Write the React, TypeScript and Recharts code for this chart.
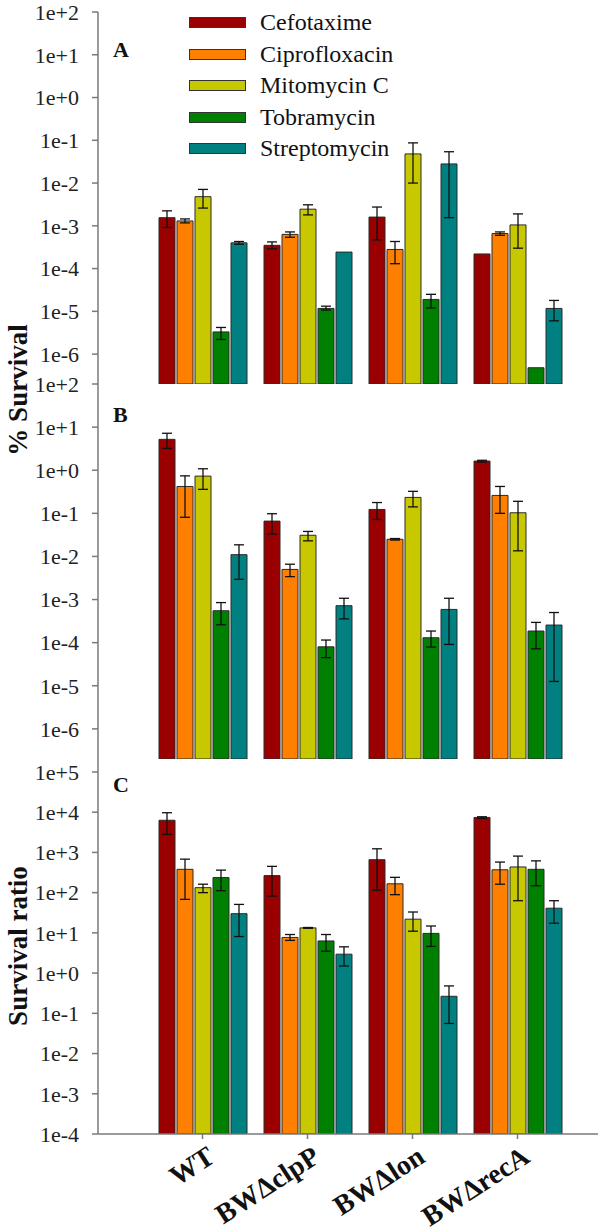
import React from 'react';
import { BarChart, Bar, XAxis, YAxis, ErrorBar, Legend } from 'recharts';

const SERIF = "Liberation Serif, DejaVu Serif, serif";

const groups = ['WT', 'BWΔclpP', 'BWΔlon', 'BWΔrecA'];
const drugs = ['Cefotaxime', 'Ciprofloxacin', 'Mitomycin C', 'Tobramycin', 'Streptomycin'];
const drugKeys = ['cef', 'cip', 'mito', 'tobra', 'strep'];
const drugColors = ['#9a0000', '#ff8000', '#c8c800', '#008000', '#008080'];

// Tick values
const survivalTicks = [1e-6, 1e-5, 1e-4, 1e-3, 1e-2, 1e-1, 1, 10, 100];
const ratioTicks = [1e-4, 1e-3, 1e-2, 1e-1, 1, 10, 100, 1e3, 1e4, 1e5];
const survivalDomain = [2e-7, 100];
const ratioDomain = [1e-4, 2.1e5];

// Panel A (% survival) values and error bounds [low, high]
const aCef = [1.55e-3, 3.5e-4, 1.6e-3, 2.2e-4];
const aCip = [1.3e-3, 6.3e-4, 2.8e-4, 6.6e-4];
const aMito = [4.8e-3, 2.45e-3, 4.8e-2, 1.05e-3];
const aTobra = [3.3e-6, 1.17e-5, 1.9e-5, 4.8e-7];
const aStrep = [4.0e-4, 2.43e-4, 2.8e-2, 1.17e-5];
const aCefErr = [[9.1e-4, 2.24e-3], [2.9e-4, 4.2e-4], [4.7e-4, 2.75e-3], null];
const aCipErr = [[1.17e-3, 1.45e-3], [5.4e-4, 7.2e-4], [1.3e-4, 4.3e-4], [6.0e-4, 7.2e-4]];
const aMitoErr = [[2.6e-3, 7.1e-3], [1.8e-3, 3.1e-3], [1.0e-2, 8.7e-2], [3.0e-4, 1.9e-3]];
const aTobraErr = [[2.2e-6, 4.2e-6], [1.07e-5, 1.32e-5], [1.2e-5, 2.5e-5], null];
const aStrepErr = [[3.7e-4, 4.3e-4], null, [1.55e-3, 5.4e-2], [6.0e-6, 1.8e-5]];

// Panel B (% survival)
const bCef = [5.2, 6.6e-2, 0.123, 1.63];
const bCip = [0.42, 5.0e-3, 2.5e-2, 0.26];
const bMito = [0.73, 3.1e-2, 0.234, 0.103];
const bTobra = [5.5e-4, 8.0e-5, 1.3e-4, 1.86e-4];
const bStrep = [1.1e-2, 7.2e-4, 5.9e-4, 2.56e-4];
const bCefErr = [[3.2, 7.2], [3.3e-2, 9.8e-2], [7.2e-2, 0.178], [1.55, 1.7]];
const bCipErr = [[8.1e-2, 0.74], [3.4e-3, 6.6e-3], [2.4e-2, 2.6e-2], [0.1, 0.42]];
const bMitoErr = [[0.36, 1.08], [2.3e-2, 3.8e-2], [0.141, 0.324], [1.35e-2, 0.19]];
const bTobraErr = [[2.6e-4, 8.5e-4], [4.5e-5, 1.15e-4], [7.9e-5, 1.86e-4], [7.2e-5, 2.95e-4]];
const bStrepErr = [[2.95e-3, 1.86e-2], [3.55e-4, 1.07e-3], [9.1e-5, 1.07e-3], [1.26e-5, 5.0e-4]];

// Panel C (survival ratio)
const cCef = [6300, 265, 660, 7400];
const cCip = [380, 7.7, 166, 370];
const cMito = [133, 13.3, 21.9, 435];
const cTobra = [237, 6.3, 9.7, 380];
const cStrep = [30, 2.95, 0.265, 41];
const cCefErr = [[2800, 9700], [82, 450], [115, 1230], [7000, 7700]];
const cCipErr = [[68, 680], [6.5, 9.1], [89, 240], [162, 575]];
const cMitoErr = [[100, 162], [13, 13.6], [11, 33], [63, 810]];
const cTobraErr = [[112, 363], [3.5, 9.1], [4.6, 14.8], [148, 617]];
const cStrepErr = [[8.1, 51], [1.5, 4.5], [0.056, 0.48], [17.4, 63]];

function buildRows(values: number[][], errs: (number[] | null)[][]) {
  return groups.map((g, gi) => {
    const row: any = { group: g };
    drugKeys.forEach((k, di) => {
      const v = values[di][gi];
      row[k] = v;
      const e = errs[di][gi];
      row[k + 'Err'] = e ? [v - e[0], e[1] - v] : null;
    });
    return row;
  });
}

const rowsA = buildRows([aCef, aCip, aMito, aTobra, aStrep], [aCefErr, aCipErr, aMitoErr, aTobraErr, aStrepErr]);
const rowsB = buildRows([bCef, bCip, bMito, bTobra, bStrep], [bCefErr, bCipErr, bMitoErr, bTobraErr, bStrepErr]);
const rowsC = buildRows([cCef, cCip, cMito, cTobra, cStrep], [cCefErr, cCipErr, cMitoErr, cTobraErr, cStrepErr]);

const fmt = (v: number) => {
  const e = Math.round(Math.log10(v));
  return `1e${e >= 0 ? '+' : '-'}${Math.abs(e)}`;
};

const AXIS = '#7a7a7a';

const XTick = (props: any) => {
  const { x, y, payload } = props;
  const ax = x + 14;
  const ay = y + 20;
  return (
    <text
      x={ax}
      y={ay}
      transform={`rotate(-33, ${ax}, ${ay})`}
      textAnchor="end"
      style={{ fontFamily: SERIF }}
      fontSize={28}
      fontWeight={700}
      fill="#111"
    >
      {payload.value}
    </text>
  );
};

const renderLegend = () => (
  <div style={{ fontFamily: SERIF, fontSize: 24, color: '#111' }}>
    {drugs.map((d, i) => (
      <div key={d} style={{ display: 'flex', alignItems: 'center', height: 31.5, whiteSpace: 'nowrap' }}>
        <span
          style={{
            display: 'inline-block',
            width: 55,
            height: 9,
            background: drugColors[i],
            border: '1px solid #333',
            marginRight: 14,
          }}
        />
        <span>{d}</span>
      </div>
    ))}
  </div>
);

function Panel(props: {
  rows: any[];
  domain: number[];
  ticks: number[];
  top: number;
  height: number;
  showX: boolean;
  legend?: boolean;
}) {
  const { rows, domain, ticks, top, height, showX, legend } = props;
  return (
    <div style={{ position: 'absolute', left: 0, top, width: 600, height }}>
      <BarChart
        width={600}
        height={height}
        data={rows}
        margin={{ top: 12, right: 2, bottom: 0, left: 0 }}
        barSize={16}
        barGap={2}
        style={{ fontFamily: SERIF }}
      >
        <XAxis
          dataKey="group"
          type="category"
          padding={{ left: 52, right: 28 }}
          axisLine={{ stroke: AXIS, strokeWidth: 1.5 }}
          tickLine={showX ? { stroke: AXIS, strokeWidth: 1.5 } : false}
          tickSize={5}
          tick={showX ? <XTick /> : false}
          height={showX ? 98 : 0}
          interval={0}
        />
        <YAxis
          scale="log"
          type="number"
          domain={domain}
          allowDataOverflow
          ticks={ticks}
          interval={0}
          tickFormatter={fmt}
          width={98}
          axisLine={{ stroke: AXIS, strokeWidth: 1.5 }}
          tickLine={{ stroke: AXIS, strokeWidth: 1.5 }}
          tickSize={6}
          tickMargin={13}
          tick={{ fontSize: 22, fill: '#222', style: { fontFamily: SERIF } }}
        />
        {legend && (
          <Legend
            layout="vertical"
            align="center"
            verticalAlign="middle"
            content={renderLegend}
            wrapperStyle={{ top: 7, left: 189, width: 'auto', height: 'auto' }}
          />
        )}
        {drugKeys.map((k, i) => (
          <Bar
            key={k}
            dataKey={k}
            name={drugs[i]}
            fill={drugColors[i]}
            stroke="#2a2a2a"
            strokeWidth={1}
            isAnimationActive={false}
          >
            <ErrorBar dataKey={k + 'Err'} width={5} stroke="#111" strokeWidth={1.3} direction="y" />
          </Bar>
        ))}
      </BarChart>
    </div>
  );
}

export default function App() {
  const titleStyle = { fontFamily: SERIF };
  return (
    <div style={{ position: 'absolute', left: 0, top: 0, width: 600, height: 1232, background: '#fff', fontFamily: SERIF }}>
      <Panel rows={rowsA} domain={survivalDomain} ticks={survivalTicks} top={0} height={384} showX={false} legend />
      <Panel rows={rowsB} domain={survivalDomain} ticks={survivalTicks} top={372} height={387} showX={false} />
      <Panel rows={rowsC} domain={ratioDomain} ticks={ratioTicks} top={747} height={485} showX />
      <svg
        width={600}
        height={1232}
        style={{ position: 'absolute', left: 0, top: 0, pointerEvents: 'none' }}
      >
        <text x={113} y={57} style={titleStyle} fontSize={22} fontWeight={700} fill="#111">A</text>
        <text x={113} y={422} style={titleStyle} fontSize={22} fontWeight={700} fill="#111">B</text>
        <text x={113} y={792} style={titleStyle} fontSize={22} fontWeight={700} fill="#111">C</text>
        <text
          x={27}
          y={390}
          transform="rotate(-90, 27, 390)"
          textAnchor="middle"
          style={titleStyle}
          fontSize={27}
          fontWeight={700}
          fill="#111"
        >
          % Survival
        </text>
        <text
          x={27}
          y={946}
          transform="rotate(-90, 27, 946)"
          textAnchor="middle"
          style={titleStyle}
          fontSize={27}
          fontWeight={700}
          fill="#111"
        >
          Survival ratio
        </text>
      </svg>
    </div>
  );
}
